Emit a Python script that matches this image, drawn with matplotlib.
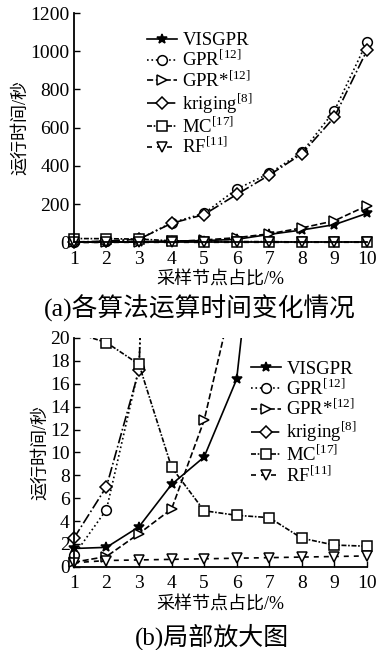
import numpy as np
import matplotlib
matplotlib.use('Agg')
import matplotlib.pyplot as plt
from matplotlib.patches import Rectangle

# 字體設定：數字用襯線體，中文用 Noto Sans CJK
plt.rcParams['font.family'] = ['Liberation Serif', 'Noto Sans CJK SC']
plt.rcParams['mathtext.fontset'] = 'custom'
plt.rcParams['mathtext.rm'] = 'Liberation Serif'
plt.rcParams['axes.unicode_minus'] = False

x = [1, 2, 3, 4, 5, 6, 7, 8, 9, 10]

# 各算法運行時間 (秒)
visgpr = [1.6, 1.7, 3.5, 7.2, 9.6, 16.4, 42, 65, 93, 152]
gpr = [1.0, 5.0, 17.4, 103, 152, 279, 361, 471, 688, 1048]
gpr_star = [0.4, 0.9, 2.9, 5.05, 12.8, 25, 45, 76, 113, 192]
kriging = [2.5, 7.0, 17.2, 100, 146, 251, 352, 463, 655, 1004]
mc = [20.5, 19.6, 17.7, 8.7, 4.9, 4.5, 4.3, 2.5, 1.9, 1.8]
rf = [0.35, 0.55, 0.6, 0.65, 0.7, 0.75, 0.8, 0.85, 0.9, 0.95]

labels = ['VISGPR', r'GPR$^{\mathrm{[12]}}$', r'GPR*$^{\mathrm{[12]}}$',
          r'kriging$^{\mathrm{[8]}}$', r'MC$^{\mathrm{[17]}}$', r'RF$^{\mathrm{[11]}}$']
series = [visgpr, gpr, gpr_star, kriging, mc, rf]
styles = [
    dict(ls='-', marker='*', mfc='black', ms=7),
    dict(ls=':', marker='o', mfc='white', ms=7),
    dict(ls='--', marker='>', mfc='white', ms=7),
    dict(ls='-.', marker='D', mfc='white', ms=6),
    dict(ls=(0, (3, 1, 1, 1)), marker='s', mfc='white', ms=7),
    dict(ls=(0, (3, 3)), marker='v', mfc='white', ms=7),
]

fig = plt.figure(figsize=(3.79, 6.5), dpi=100)
ax1 = fig.add_axes([0.195, 0.627, 0.773, 0.353])
ax2 = fig.add_axes([0.195, 0.128, 0.773, 0.352])


def draw(ax, ylim, yticks, legend_box):
    # 只在上方裁切 (局部放大圖)，左右端點標記完整顯示
    clip = Rectangle((0, -1e4), 12, ylim[1] + 1e4, transform=ax.transData)
    for ys, lab, st in zip(series, labels, styles):
        ln, = ax.plot(x, ys, color='black', lw=1.2, mec='black', mew=1.1,
                      label=lab, **st)
        ln.set_clip_path(clip)
    ax.set_xlim(1, 10)
    ax.set_ylim(*ylim)
    ax.set_xticks(x)
    ax.set_yticks(yticks)
    ax.spines['top'].set_visible(False)
    ax.spines['right'].set_visible(False)
    for s in ['left', 'bottom']:
        ax.spines[s].set_linewidth(1.3)
    ax.tick_params(direction='in', labelsize=14, length=4, width=1, pad=3)
    ax.tick_params(axis='x', pad=6)
    ax.set_xlabel('采样节点占比/%', fontsize=13, labelpad=3)
    ax.set_ylabel('运行时间/秒', fontsize=13, labelpad=1)
    ax.legend(loc='upper left', bbox_to_anchor=legend_box, frameon=False,
              fontsize=13.5, handlelength=1.6, handletextpad=0.3,
              labelspacing=0.0, borderpad=0.1)


draw(ax1, (0, 1200), range(0, 1201, 200), (0.21, 0.965))
draw(ax2, (0, 20), range(0, 21, 2), (0.565, 0.95))

fig.text(0.528, 1 - 308 / 650, '(a)各算法运算时间变化情况', ha='center', va='center', fontsize=18.5)
fig.text(0.56, 1 - 637 / 650, '(b)局部放大图', ha='center', va='center', fontsize=18)

fig.savefig('out.png', dpi=100)
